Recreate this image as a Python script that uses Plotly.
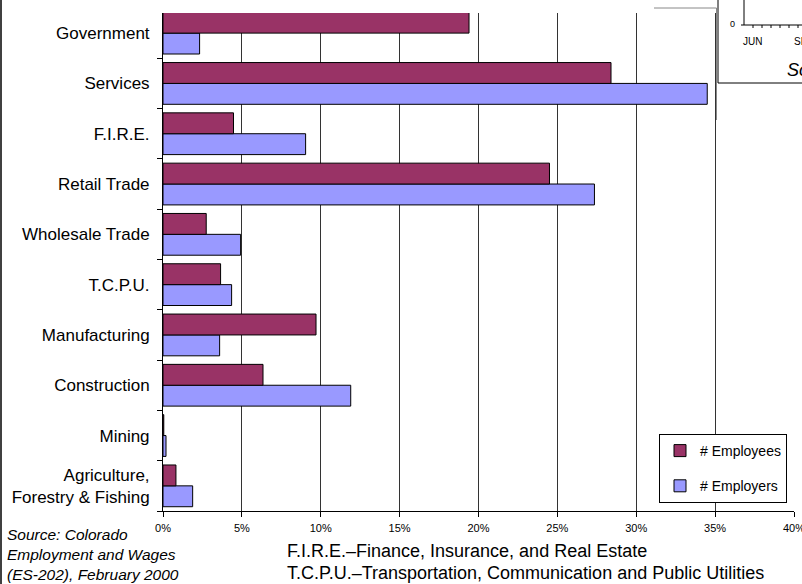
import plotly.graph_objects as go

categories = ["Agriculture,<br>Forestry & Fishing", "Mining", "Construction", "Manufacturing",
              "T.C.P.U.", "Wholesale Trade", "Retail Trade", "F.I.R.E.", "Services", "Government"]
employees = [0.82, 0.05, 6.34, 9.7, 3.65, 2.74, 24.5, 4.47, 28.4, 19.4]
employers = [1.88, 0.19, 11.9, 3.59, 4.35, 4.92, 27.35, 9.04, 34.5, 2.32]
x_ticks = [0, 5, 10, 15, 20, 25, 30, 35, 40]
x_tick_labels = [f"{t}%" for t in x_ticks]

W, H = 802, 584
L, R, T, B = 163, 794, 13, 511


def px(x):
    return (x - L) / (R - L)


def py(y):
    return (B - y) / (B - T)


fig = go.Figure()
fig.add_trace(go.Bar(
    y=categories, x=employers, orientation="h", name="# Employers",
    marker=dict(color="#9999FF", line=dict(color="#000000", width=1)),
    legendgroup="b", legendrank=2))
fig.add_trace(go.Bar(
    y=categories, x=employees, orientation="h", name="# Employees",
    marker=dict(color="#993366", line=dict(color="#000000", width=1)),
    legendgroup="a", legendrank=1))

font = "Arial, Liberation Sans, sans-serif"

fig.update_layout(
    width=W, height=H,
    margin=dict(l=L, r=W - R, t=T, b=H - B, pad=0, autoexpand=False),
    paper_bgcolor="white", plot_bgcolor="white",
    barmode="group", bargap=0.17, bargroupgap=0,
    font=dict(family=font, color="#000000"),
    showlegend=True,
    legend=dict(x=px(659), y=py(434), xanchor="left", yanchor="top",
                bordercolor="#000000", borderwidth=1, bgcolor="white",
                font=dict(size=14, family=font, color="#000000"),
                traceorder="grouped", tracegroupgap=14),
    xaxis=dict(range=[0, 40], tickvals=x_ticks, ticktext=x_tick_labels,
               showgrid=True, gridcolor="#333333", gridwidth=1,
               showline=True, linecolor="#000000", linewidth=1,
               ticks="outside", ticklen=5, tickcolor="#000000",
               ticklabeloverflow="allow", ticklabelstandoff=2, automargin=False,
               tickfont=dict(size=11, family=font, color="#000000"),
               zeroline=False, fixedrange=True),
    yaxis=dict(range=[-0.5, 9.4], type="category", automargin=False,
               showgrid=False, showline=True, linecolor="#000000", linewidth=1,
               ticks="outside", ticklen=5, tickcolor="#000000", tickson="boundaries",
               tickfont=dict(size=17, family=font, color="#000000"),
               ticklabelstandoff=9,
               zeroline=False, fixedrange=True),
)

shapes = []
# left frame line
shapes.append(dict(type="line", xref="paper", yref="paper", x0=px(1), x1=px(1), y0=py(0), y1=py(584),
                   line=dict(color="#000000", width=1.5)))
# line pieces near inset
shapes.append(dict(type="line", xref="paper", yref="paper", x0=px(654), x1=px(716.5), y0=py(8), y1=py(8),
                   line=dict(color="#888888", width=1)))
shapes.append(dict(type="line", xref="paper", yref="paper", x0=px(716.5), x1=px(716.5), y0=py(8), y1=py(120),
                   line=dict(color="#888888", width=1)))
# inset box
shapes.append(dict(type="rect", xref="paper", yref="paper", x0=px(718), x1=px(812), y0=py(-5), y1=py(83),
                   fillcolor="white", line=dict(color="#000000", width=1)))
# inset axes
shapes.append(dict(type="line", xref="paper", yref="paper", x0=px(744), x1=px(744), y0=py(-2), y1=py(25),
                   line=dict(color="#000000", width=1)))
shapes.append(dict(type="line", xref="paper", yref="paper", x0=px(741), x1=px(810), y0=py(25), y1=py(25),
                   line=dict(color="#000000", width=1)))
for tx in [753, 762, 771, 780, 789, 798]:
    shapes.append(dict(type="line", xref="paper", yref="paper", x0=px(tx), x1=px(tx), y0=py(25), y1=py(28),
                       line=dict(color="#000000", width=1)))
fig.update_layout(shapes=shapes)

ann = []
def text(x, y, s, size, italic=False, xanchor="left"):
    ann.append(dict(xref="paper", yref="paper", x=px(x), y=py(y), text=s, showarrow=False,
                    xanchor=xanchor, yanchor="middle", align="left",
                    font=dict(size=size, family=font, color="#000000",
                              style="italic" if italic else "normal")))

text(5, 554, "Source: Colorado<br>Employment and Wages<br>(ES-202), February 2000", 15.5, italic=True)
text(285, 551, "F.I.R.E.–Finance, Insurance, and Real Estate", 18)
text(285, 573, "T.C.P.U.–Transportation, Communication and Public Utilities", 18)
# inset texts (only partly visible in the reference)
text(737, 24, "0", 9, xanchor="right")
text(741, 41, "JUN", 10)
text(792, 41, "SE", 10)
text(785, 70, "So", 18, italic=True)
fig.update_layout(annotations=ann)

fig.write_html("out.html")
